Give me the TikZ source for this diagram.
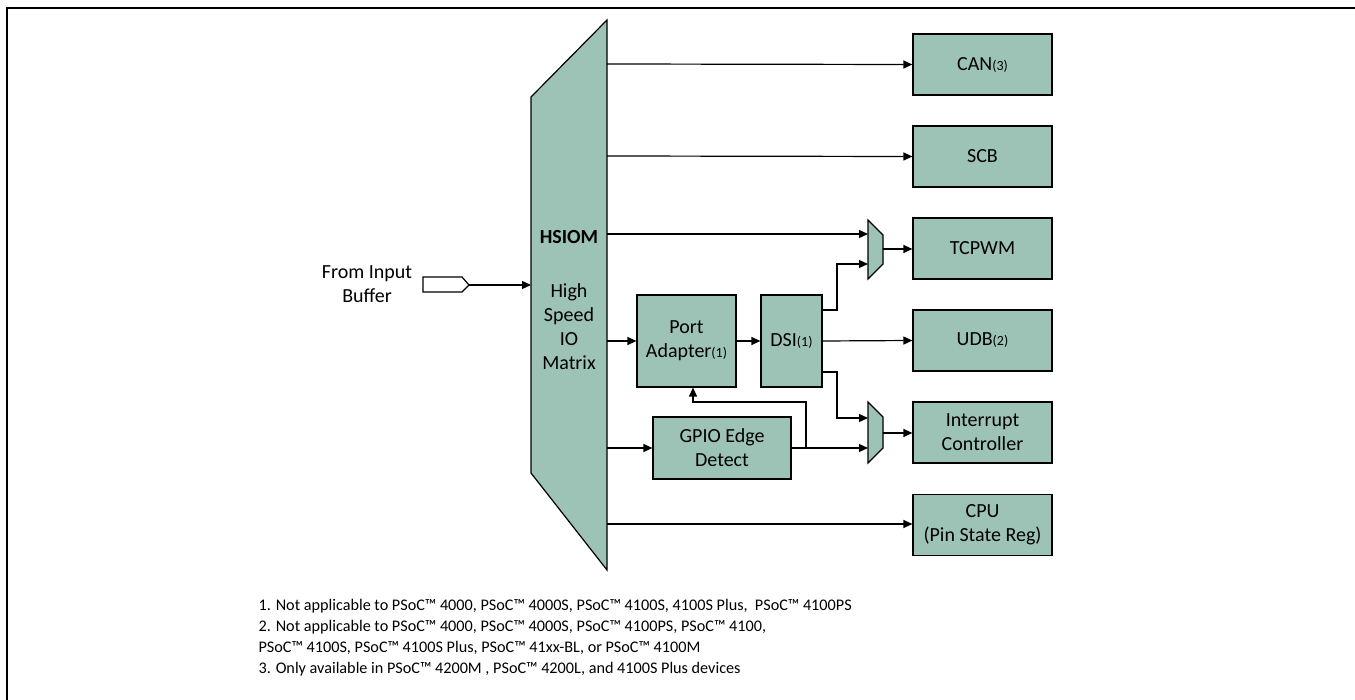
\documentclass[tikz,border=0pt]{standalone}
\usepackage{fontspec}
\setmainfont{Carlito}
\usepackage{xcolor}
\usetikzlibrary{arrows.meta}
\definecolor{hsgreen}{RGB}{157,195,183}
\tikzstyle{blk}=[draw,fill=hsgreen,align=center,inner sep=0pt]
\tikzstyle{unit}=[blk,minimum width=139,minimum height=61]
\tikzstyle{conn}=[->,>={Triangle[length=9pt,width=8pt]}]
\tikzstyle{mux}=[draw,fill=hsgreen]
\newcommand{\fnref}[1]{{\fontsize{14}{14}\selectfont(#1)}}

\begin{document}
\begin{tikzpicture}[x=1pt,y=-1pt,line width=1.2pt,font=\fontsize{20}{24}\selectfont]
    \useasboundingbox (0,0) rectangle (1355,700);
    % frame
    \draw (7,700) -- (7,8) -- (1355,8);

    % hsiom
    \draw [fill=hsgreen] (531,97) -- (607,20) -- (607,570) -- (531,473) -- cycle;
    \node (hsiom) at (569,300) [align=center] {\textbf{HSIOM}\\[30pt]High\\Speed\\IO\\Matrix};
    \coordinate (hin) at (531,285);
    \coordinate (hcan) at (607,64);
    \coordinate (hscb) at (607,156);
    \coordinate (htcp) at (607,234);
    \coordinate (hpa) at (607,341);
    \coordinate (hgpio) at (607,448);
    \coordinate (hcpu) at (607,524);

    % input buffer
    \draw (423,277) -- (462,277) -- (469,285) -- (462,292) -- (423,292) -- cycle;
    \coordinate (buf) at (469,285);
    \node (bufl) at (367,284) [align=center] {From Input\\Buffer};
    \draw [conn] (buf) -- (hin);

    % peripherals
    \node[unit] (can) at (982.5,64.5) {CAN\fnref{3}};
    \node[unit] (scb) at (982.5,156.5) {SCB};
    \node[unit] (tcpwm) at (982.5,248.5) {TCPWM};
    \node[unit] (udb) at (982.5,340.5) {UDB\fnref{2}};
    \node[unit] (intc) at (982.5,432.5) {Interrupt\\Controller};
    \node[unit] (cpu) at (982.5,525) {CPU\\(Pin State Reg)};

    % middle blocks
    \node[blk,minimum width=99,minimum height=92] (pa) at (686.5,341) {Port\\Adapter\fnref{1}};
    \node[blk,minimum width=61,minimum height=92] (dsi) at (791.5,341) {DSI\fnref{1}};
    \node[blk,minimum width=138,minimum height=62] (gpio) at (722,448) {GPIO Edge\\Detect};

    % muxes
    \draw [mux] (868,220) -- (883,235) -- (883,264) -- (868,279) -- cycle;
    \coordinate (m1a) at (868,234);
    \coordinate (m1b) at (868,264);
    \coordinate (m1o) at (883,249);
    \draw [mux] (868,402) -- (883,417) -- (883,448) -- (868,463) -- cycle;
    \coordinate (m2a) at (868,418);
    \coordinate (m2b) at (868,448);
    \coordinate (m2o) at (883,433);

    % hsiom outputs
    \draw [conn] (hcan) -- (can.west);
    \draw [conn] (hscb) -- (scb.west);
    \draw [conn] (htcp) -- (m1a);
    \draw [conn] (hpa) -- (pa.west);
    \draw [conn] (hgpio) -- (gpio.west);
    \draw [conn] (hcpu) -- (cpu.west |- hcpu);

    % dsi paths
    \draw [conn] (pa.east) -- (dsi.west);
    \coordinate (d1) at (822,310);
    \coordinate (d2) at (822,372);
    \draw [conn] (d1) -- (837,310) -- (837,264) -- (m1b);
    \draw [conn] (dsi.east) -- (udb.west);
    \draw [conn] (d2) -- (837,372) -- (837,418) -- (m2a);
    \draw [conn] (gpio.east) -- (m2b);
    \coordinate (g1) at (806,448);
    \draw [conn] (g1) -- (806,402) -- (693,402) -- ([xshift=6.5pt]pa.south);
    \draw [conn] (m1o) -- (tcpwm.west |- m1o);
    \draw [conn] (m2o) -- (intc.west |- m2o);

    % notes
    \node (notes) at (258,599) [anchor=north west,align=left,inner sep=0pt,font=\fontsize{16.2}{21}\selectfont]
    {1. Not applicable to PSoC™ 4000, PSoC™ 4000S, PSoC™ 4100S, 4100S Plus,\ \ PSoC™ 4100PS\\
     2. Not applicable to PSoC™ 4000, PSoC™ 4000S, PSoC™ 4100PS, PSoC™ 4100,\\
     PSoC™ 4100S, PSoC™ 4100S Plus, PSoC™ 41xx-BL, or PSoC™ 4100M\\
     3. Only available in PSoC™ 4200M , PSoC™ 4200L, and 4100S Plus devices};
\end{tikzpicture}
\end{document}
